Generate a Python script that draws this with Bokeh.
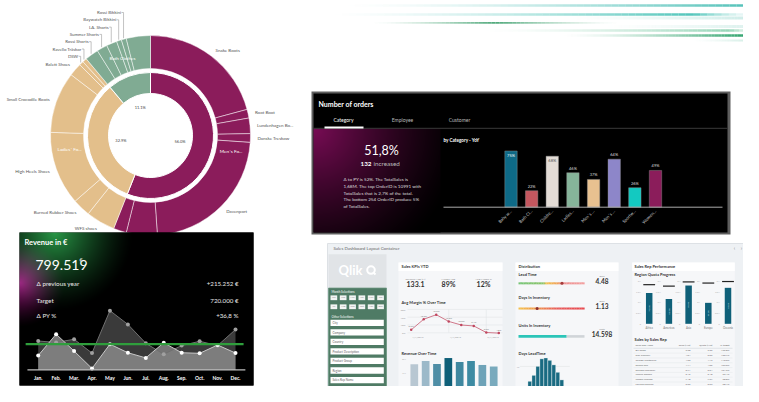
import numpy as np
from bokeh.plotting import figure
from bokeh.models import Range1d
from bokeh.core.properties import value
from bokeh.embed import file_html
from bokeh.resources import INLINE

# ======================= DATA =======================
# Sunburst: inner ring = category, outer ring = product (shares in % of total)
cat_labels = ["Men´s Fo...", "Ladies´ Fo...", "Bath Clothes"]
cat_share = [56.0, 32.9, 11.1]
prod_labels = ["Snake Boots", "Root Boot", "Lundenhagen Bo...", "Danske Treskow", "Davenport", "Cut Boots", "Exit Boots",
               "WFS shoes", "Burned Rubber Shoes", "High Heels Shoes", "Small Crocodile Boots", "Balett Shoes", "DSW",
               "Ravello Träskor", "Rossi Shorts", "Summer Shorts", "LA. Shorts", "Baywatch Bikkini", "Rossi Bikkini", ""]
prod_cat = [0, 0, 0, 0, 0, 0, 0, 1, 1, 1, 1, 1, 1, 1, 2, 2, 2, 2, 2, 2]
prod_share = [20.8, 1.4, 2.5, 1.4, 22.8, 5.0, 2.1,
              4.7, 2.9, 11.9, 9.9, 2.1, 0.7, 0.7,
              2.2, 1.7, 1.7, 0.8, 0.8, 3.9]

# Number of orders
order_title = "Number of orders"
order_tabs = ["Category", "Employee", "Customer"]
order_kpi = "51,8%"
order_increased = "132"
order_text = ["Δ to PY is 52%. The TotalSales is",
              "1,68M. The top OrderID is 10991 with",
              "TotalSales that is 2,7% of the total.",
              "The bottom 254 OrderID produce 5%",
              "of TotalSales."]
order_cats = ["Baby w...", "Bath Cl...", "Childre...", "Ladies...", "Men´s ...", "Men´s ...", "Sportw...", "Women..."]
order_yoy = [75, 22, 68, 46, 37, 64, 26, 49]

# Revenue in €
rev_months = ["Jan.", "Feb.", "Mar.", "Apr.", "May", "Jun.", "Jul.", "Aug.", "Sep.", "Oct.", "Nov.", "Dec."]
rev_series_a = [101, 96, 107, 59, 207, 159, 93, 55, 85, 100, 85, 141]
rev_series_b = [50, 125, 66, 5, 90, 60, 42, 95, 60, 58, 87, 59]
rev_target_line = 90
rev_total = "799.519"
rev_kpi_labels = ["Δ previous year", "Target", "Δ PY %"]
rev_kpi_values = ["+215.252 €", "720.000 €", "+36,8 %"]

# Sales dashboard
dash_months = ["Jan", "Feb", "Mar", "Apr", "May", "Jun", "Jul", "Aug", "Sep", "Oct", "Nov", "Dec"]
dash_filters = ["City", "Company", "Country", "Product Description", "Product Group", "Region", "Sales Rep Name"]
kpi_names = ["Revenue YTD (M)", "Margin YTD", "YTD Margin %"]
kpi_values = ["133.1", "89%", "12%"]
margin_pct = [6.9, 13.7, 16.6, 12.3, 10.0, 9.4, 5.2, 4.8]
margin_ticks = [5, 10, 15, 20]
margin_dates = ["1/1/2019", "4/1/2019", "7/1/2019"]
revenue_m = [1.62, 1.85, 1.64, 2.06, 1.78, 1.85, 1.57, 1.46]
revenue_ticks = [1, 2]
dist_names = ["Lead Time", "Days In Inventory", "Units In Inventory"]
dist_units = ["Days", "Days", "Units"]
dist_values = [4.48, 1.13, 14598]
dist_value_labels = ["4.48", "1.13", "14.598"]
dist_max = [6.8, 4.0, 20000]
leadtime_counts = [288, 571, 1000, 1360, 1403, 1288, 1073, 717, 356]
regions = ["Africa", "Americas", "Asia", "Europe", "Oceania"]
region_progress = [72.5, 58.4, 90.0, 49.3, 84.6]
region_target = [92.0, 88.6, 98.5, 95.8, 99.4]
rep_header = ["Sales Rep Name", "Sales (Mio)", "Quota (Mio)", "% target"]
rep_names = ["Bill Rossa", "Rick Carswell", "George Whitmeyer", "Sharon Roe", "Sheldon Tweedley",
             "Joshua Ronson", "Joseph Lafonde", "Lorraine Rohrich"]
rep_sales = [2.98, 4.04, 4.53, 4.14, 3.71, 3.46, 7.48, 3.55]
rep_quota = [2.35, 3.09, 4.12, 4.06, 3.64, 3.48, 7.57, 3.62]

# ======================= FIGURE =======================
W, H = 743, 386
FX0, FX1, FY0, FY1 = 0, W, H, 0   # picture pixel at frame left/right/bottom/top
FONT = "Lato"

p = figure(width=W, height=H, x_range=Range1d(FX0, FX1), y_range=Range1d(FY0, FY1),
           output_backend="svg", toolbar_location=None, min_border=0,
           x_axis_location=None, y_axis_location=None)
p.grid.visible = False
p.outline_line_color = None
p.background_fill_color = "white"
p.border_fill_color = "white"

# vertical compression of the two bottom panels so that they fit in the frame
KR = (385.0 - 232.0) / (399.0 - 232.0)
KD = (386.0 - 243.0) / (402.0 - 243.0)


def RY(y):
    return (232.0 + (np.asarray(y, dtype=float) - 232.0) * KR).tolist()


def DY(y):
    return (243.0 + (np.asarray(y, dtype=float) - 243.0) * KD).tolist()


def sub_range(v0, v1, px0, px1, f0, f1):
    k = (v1 - v0) / (px1 - px0)
    return Range1d(start=v0 + (f0 - px0) * k, end=v0 + (f1 - px0) * k)


def add_x(name, v0, v1, px0, px1):
    p.extra_x_ranges[name] = sub_range(v0, v1, px0, px1, FX0, FX1)


def add_y(name, v0, v1, px0, px1):
    p.extra_y_ranges[name] = sub_range(v0, v1, px0, px1, FY0, FY1)


def T(x, y, s, size, color="#333333", align="left", bold=False, xr="default", yr="default",
      angle=0.0, baseline="middle", font=FONT, x_offset=0, alpha=1.0):
    xs = np.atleast_1d(np.asarray(x, dtype=float)).tolist()
    ys = np.atleast_1d(np.asarray(y, dtype=float)).tolist()
    ss = [str(v) for v in s] if isinstance(s, (list, tuple, np.ndarray)) else [str(s)]
    n = max(len(xs), len(ys), len(ss))
    if len(xs) == 1:
        xs = xs * n
    if len(ys) == 1:
        ys = ys * n
    if len(ss) == 1:
        ss = ss * n
    p.text(x=xs, y=ys, text=ss, text_font=value(font), text_font_size=value(f"{size}px"),
           text_font_style=value("bold" if bold else "normal"), text_align=value(align),
           text_baseline=value(baseline), angle=angle, x_offset=x_offset, text_alpha=alpha,
           text_color=color, x_range_name=xr, y_range_name=yr)


def hex2rgb(h):
    return tuple(int(h[i:i + 2], 16) for i in (1, 3, 5))


def interp(stops, t):
    for (t0, c0), (t1, c1) in zip(stops[:-1], stops[1:]):
        if t <= t1:
            f = (t - t0) / (t1 - t0) if t1 > t0 else 0
            a, b = hex2rgb(c0), hex2rgb(c1)
            return "#%02x%02x%02x" % tuple(int(round(a[j] + (b[j] - a[j]) * f)) for j in range(3))
    return stops[-1][1]


def glow(w, h, spots, base=(0, 0, 0)):
    yy, xx = np.mgrid[0:h, 0:w].astype(float)
    rgb = np.zeros((h, w, 3)) + np.array(base, dtype=float)
    for sx, sy, rad, col, a, ex in spots:
        d = np.sqrt((xx - sx) ** 2 + (yy - sy) ** 2) / rad
        f = np.clip(1 - d, 0, 1) ** ex * a
        rgb += f[..., None] * np.array(col, dtype=float)
    rgb = np.clip(rgb, 0, 255).astype(np.uint32)
    img = (np.uint32(255) << 24) | (rgb[..., 2] << 16) | (rgb[..., 1] << 8) | rgb[..., 0]
    return img.astype(np.uint32)


# ---------------- decorative streaks (top right) ----------------
streaks = [
    (5, 340, 757, "#39b8ae", 1.0, 2.5, 0.9),
    (14, 327, 757, "#3fbfb3", 0.85, 2.5, 0.9),
    (17.5, 560, 757, "#a6ddd6", 1.0, 3.0, 0.6),
    (22.3, 370, 620, "#3c9f6c", 0.5, 1.8, 0.9),
    (26, 600, 757, "#bfe6df", 1.0, 3.0, 0.6),
    (30, 480, 757, "#6cc49a", 0.9, 2.5, 0.7),
    (35, 560, 757, "#1b9a5e", 1.0, 2.5, 1.0),
    (40, 690, 757, "#9fd9c7", 1.0, 2.0, 0.6),
]
for sy, sx0, sx1, scol, peak, sw, amax in streaks:
    xs = np.linspace(sx0, sx1, 61)
    t = ((xs[:-1] + xs[1:]) / 2 - sx0) / (sx1 - sx0)
    a = np.where(t < peak, t / peak, (1 - t) / max(1 - peak, 1e-6))
    a = amax * np.clip(a, 0, 1) ** 1.5
    p.segment(x0=xs[:-1], x1=xs[1:], y0=sy, y1=sy, line_color=scol, line_alpha=a, line_width=sw)

# ---------------- sunburst ----------------
cx, cy = 150, 135
r_hole, r_in, r_gap, r_out = 42, 63, 67, 100
cat_colors = ["#8b1c5b", "#e3bf8b", "#80ab93"]
cs = np.array(cat_share)
c_end = np.cumsum(cs) * 3.6
c_start = c_end - cs * 3.6
c_mid = (c_start + c_end) / 2
p.annular_wedge(x=cx, y=cy, inner_radius=r_hole, outer_radius=r_in,
                start_angle=np.radians(90 - c_end), end_angle=np.radians(90 - c_start),
                fill_color=cat_colors, line_color="white", line_width=1.0)
ps = np.array(prod_share)
p_end = np.cumsum(ps) * 3.6
p_start = p_end - ps * 3.6
p_mid = (p_start + p_end) / 2
p.annular_wedge(x=cx, y=cy, inner_radius=r_gap, outer_radius=r_out,
                start_angle=np.radians(90 - p_end), end_angle=np.radians(90 - p_start),
                fill_color=[cat_colors[c] for c in prod_cat], line_color="white", line_width=0.6, line_alpha=0.8)

th = np.radians(p_mid)
r_lab = 107
right_idx = [i for i in range(len(ps)) if prod_labels[i] and p_mid[i] < 315 and np.sin(th[i]) >= 0]
left_idx = [i for i in range(len(ps)) if prod_labels[i] and p_mid[i] < 315 and np.sin(th[i]) < 0]
for idxs, al in ((right_idx, "left"), (left_idx, "right")):
    T([cx + r_lab * np.sin(th[i]) for i in idxs], [cy - r_lab * np.cos(th[i]) for i in idxs],
      [prod_labels[i] for i in idxs], 4.5, "#555555", al)
stk = sorted([i for i in range(len(ps)) if prod_labels[i] and p_mid[i] >= 315], key=lambda i: -p_mid[i])
lx, ly, lt, lxs, lys = [], [], [], [], []
for k, i in enumerate(stk):
    ax = cx + (r_out + 1) * np.sin(th[i])
    ay = cy - (r_out + 1) * np.cos(th[i])
    yl = 12 + 7.3 * k
    lxs.append([ax - 2, ax, ax])
    lys.append([yl, yl, ay])
    lx.append(ax - 2.5)
    ly.append(yl)
    lt.append(prod_labels[i])
p.multi_line(xs=lxs, ys=lys, line_color="#9a9a9a", line_width=0.6)
T(lx, ly, lt, 4.4, "#555555", "right")

T([cx + 82 * np.sin(np.radians(m)) for m in c_mid], [cy - 82 * np.cos(np.radians(m)) for m in c_mid],
  cat_labels, 4.6, "white", "center")
T([cx + 30 * np.sin(np.radians(m)) for m in c_mid], [cy - 30 * np.cos(np.radians(m)) for m in c_mid],
  [f"{v:.1f}%" for v in cat_share], 4.0, "#444444", "center")

# ---------------- Revenue in € panel ----------------
RX0, RX1, RY0, RY1 = 19, 253, 232, RY(399)
p.quad(left=RX0, right=RX1, top=RY0, bottom=RY1, fill_color="black", line_color=None)
rh = int(round(RY1 - RY0))
rimg = glow(RX1 - RX0, rh, [(35, 0, 80, (40, 150, 70), 1.0, 1.4),
                            (0, 50, 45, (150, 20, 120), 1.0, 1.4)])
p.image_rgba(image=[rimg], x=RX0, y=RY0, dw=RX1 - RX0, dh=rh)
T(24, RY(243), "Revenue in €", 7.5, "white", bold=True)
T(35, RY(268), rev_total, 14, "white")
T(79, RY(262), "€", 5.5, "#dddddd")
T(36, RY([288, 306, 323]), rev_kpi_labels, 6.3, "#e8e8e8")
T(238, RY([288, 306, 323]), rev_kpi_values, 6.2, "#e8e8e8", "right")

add_x("rev_x", 0, 11, 37.7, 235)
add_y("rev_y", 0, 100, RY(382), RY(382 - 100 / 3.2))
ridx = np.arange(len(rev_months))
p.varea(x=ridx, y1=0, y2=rev_series_a, fill_color="#3a3a3a", x_range_name="rev_x", y_range_name="rev_y")
p.varea(x=ridx, y1=0, y2=rev_series_b, fill_color="#8a8a8a", fill_alpha=0.85, x_range_name="rev_x", y_range_name="rev_y")
p.line(ridx, rev_series_a, line_color="#707070", line_width=1, x_range_name="rev_x", y_range_name="rev_y")
p.line(ridx, rev_series_b, line_color="#c8c8c8", line_width=1, x_range_name="rev_x", y_range_name="rev_y")
p.scatter(ridx, rev_series_a, size=4, fill_color="#a0a0a0", line_color=None, x_range_name="rev_x", y_range_name="rev_y")
p.scatter(ridx, rev_series_b, size=4, fill_color="white", line_color=None, x_range_name="rev_x", y_range_name="rev_y")
p.segment(x0=-0.6, x1=len(ridx) - 0.45, y0=0, y1=0, line_color="#bdbdbd", line_width=1.3,
          x_range_name="rev_x", y_range_name="rev_y")
p.segment(x0=-0.7, x1=len(ridx) - 0.55, y0=rev_target_line, y1=rev_target_line, line_color="#2f9e3c",
          line_width=2.2, x_range_name="rev_x", y_range_name="rev_y")
T(ridx, RY(391), rev_months, 5, "white", "center", bold=True, xr="rev_x")

# ---------------- Number of orders panel ----------------
p.quad(left=311, right=730, top=91, bottom=234, fill_color="#5e5e5e", line_color=None)
p.quad(left=313, right=727, top=93, bottom=232, fill_color="black", line_color=None)
oimg = glow(440 - 313, 232 - 128, [(0, 0, 150, (120, 12, 85), 1.0, 1.3)])
p.image_rgba(image=[oimg], x=313, y=128, dw=440 - 313, dh=232 - 128)
T(318, 103, order_title, 7, "white", bold=True)
T([343, 402, 459], 119, order_tabs, 5, ["#ffffff", "#bbbbbb", "#bbbbbb"], "center")
p.segment(x0=313, x1=727, y0=127.8, y1=127.8, line_color="#3a3a3a", line_width=1)
p.segment(x0=324, x1=363, y0=127, y1=127, line_color="white", line_width=2)
T(381, 150, order_kpi, 12.5, "white", "center")
T(371, 163, order_increased, 6.3, "white", "right", bold=True)
T(373, 163, "increased", 6.3, "#bbbbbb", "left")
T(343, [178, 185, 192, 198.5, 205], order_text, 4.6, "#dddddd")
T(443, 139, "by Category - YoY", 4.6, "white", bold=True)

add_x("ord_x", 0, 7, 510.5, 655)
add_y("ord_y", 0, 100, 206.7, 131.7)
oidx = np.arange(len(order_cats))
bar_cols = ["#0e6a87", "#c4575f", "#e3dcd6", "#86b49a", "#e8c190", "#8d86c9", "#13c9c1", "#8b1d5b"]
p.vbar(x=oidx, top=order_yoy, bottom=0, width=0.6, fill_color=bar_cols, line_color="#9a9a9a", line_width=0.4,
       x_range_name="ord_x", y_range_name="ord_y")
p.segment(x0=443, x1=722, y0=0, y1=0, line_color="#aaaaaa", line_width=1, y_range_name="ord_y")
ins = [v >= 66 for v in order_yoy]
lum = [0.3 * hex2rgb(c)[0] + 0.59 * hex2rgb(c)[1] + 0.11 * hex2rgb(c)[2] for c in bar_cols]
T([i for i in oidx if ins[i]], [order_yoy[i] - 6 for i in oidx if ins[i]],
  [f"{order_yoy[i]}%" for i in oidx if ins[i]], 4, [("#555555" if lum[i] > 150 else "white") for i in oidx if ins[i]],
  "center", xr="ord_x", yr="ord_y")
T([i for i in oidx if not ins[i]], [order_yoy[i] + 6 for i in oidx if not ins[i]],
  [f"{order_yoy[i]}%" for i in oidx if not ins[i]], 4, "#dddddd", "center", xr="ord_x", yr="ord_y")
T(oidx, 210, order_cats, 4.3, "#cccccc", "right", xr="ord_x", angle=np.pi / 4)

# ---------------- Sales dashboard panel (compressed vertically via DY) ----------------
p.quad(left=327, right=748, top=243, bottom=DY(402), fill_color="#eef1f4", line_color="#dde1e5")
T(333, DY(248.5), "Sales Dashboard Layout Container", 4.4, "#666666")
T([734, 741], DY(248.5), ["‹", "›"], 5, "#888888", "center")
# sidebar
p.quad(left=328, right=386, top=DY(255), bottom=DY(292), fill_color="#e1e4e7", line_color=None)
T(338, DY(272.5), "Qlik", 13, "white", bold=True)
p.circle(x=370.5, y=DY(272.5), radius=3.8, fill_color=None, line_color="white", line_width=2)
p.segment(x0=372.5, y0=DY(275), x1=375, y1=DY(277.5), line_color="white", line_width=2)
p.quad(left=328, right=386, top=DY(292.5), bottom=DY(402), fill_color="#4f7b65", line_color="#6b9580", line_width=0.8)
T(331, DY(297), "Month Selections", 3, "white")
bx = np.array([330, 339.3, 348.7, 358, 367.3, 376.7])
mb_left = np.concatenate([bx, bx])
mb_top = np.repeat([300.7, 310.7], 6)
p.quad(left=mb_left, right=mb_left + 6.7, top=DY(mb_top), bottom=DY(mb_top + 5.3), fill_color="#f3f5f4", line_color=None)
T(mb_left + 3.35, DY(mb_top + 2.7), dash_months, 2.4, "#888888", "center")
T(331, DY(325), "Other Selections", 3, "white")
fy = 327.7 + 10.6 * np.arange(len(dash_filters))
p.quad(left=330, right=383.3, top=DY(fy), bottom=DY(fy + 7), fill_color="white", line_color=None)
T(332, DY(fy + 3.5), dash_filters, 3, "#666666")

# cards
for cx0, cx1 in ((398, 502), (515, 618), (631.7, 734.3)):
    p.quad(left=cx0, right=cx1, top=DY(264), bottom=DY(402), fill_color="#f6f7f9", line_color=None)
    p.quad(left=cx0, right=cx1, top=DY(264), bottom=DY(273.5), fill_color="white", line_color=None)
# card 1
T(401, DY(269), "Sales KPIs YTD", 4, "#333333", bold=True)
T([415, 448, 483], DY(282), kpi_names, 2.6, "#888888", "center")
T([415, 448, 483], DY(287.5), kpi_values, 7, "#333333", "center", bold=True)
T(401, DY(309), "Avg Margin % Over Time", 4, "#333333", bold=True)
add_x("mg_x", 0, 7, 410.7, 498.3)
add_y("mg_y", 5, 20, DY(342.3), DY(316.3))
midx = np.arange(len(margin_pct))
p.segment(x0=-0.3, x1=7.3, y0=margin_ticks, y1=margin_ticks, line_color="#e2e5e8", line_width=0.6,
          x_range_name="mg_x", y_range_name="mg_y")
p.segment(x0=[3, 6], x1=[3, 6], y0=min(margin_ticks), y1=max(margin_ticks), line_color="#e2e5e8", line_width=0.6,
          x_range_name="mg_x", y_range_name="mg_y")
T(-0.45, margin_ticks, [f"{v}%" for v in margin_ticks], 2.6, "#999999", "right", xr="mg_x", yr="mg_y")
T([0, 3, 6], DY(347), margin_dates, 2.6, "#999999", "left", xr="mg_x", x_offset=1)
p.line(midx, margin_pct, line_color="#d0788a", line_width=1, x_range_name="mg_x", y_range_name="mg_y")
p.scatter(midx, margin_pct, size=2.5, fill_color="#c0455e", line_color=None, x_range_name="mg_x", y_range_name="mg_y")
T(midx, [v + 2 for v in margin_pct], [f"{v:.1f}%" for v in margin_pct], 2.4, "#777777", "center",
  xr="mg_x", yr="mg_y")
T(401, DY(365.3), "Revenue Over Time", 4, "#333333", bold=True)
add_x("rv_x", 0, 7, 413.8, 493.2)
add_y("rv_y", 0, 1, DY(402.7), DY(387))
rv_cols = ["#b8c7d2", "#9cb9c9", "#4f8ea6", "#0e5f78", "#3f88a0", "#3d8ba3", "#6ea3b8", "#79aabd"]
p.vbar(x=np.arange(len(revenue_m)), top=revenue_m, bottom=0, width=0.68, fill_color=rv_cols, line_color=None,
       x_range_name="rv_x", y_range_name="rv_y")
T(-0.75, revenue_ticks, [f"{v}M" for v in revenue_ticks], 2.6, "#999999", "right", xr="rv_x", yr="rv_y")

# card 2
T(518, DY(269), "Distribution", 4, "#333333", bold=True)
add_x("g_x", 0, 1, 518, 584)
g_y = DY([287.3, 315.3, 346.3])
T(518, DY([278, 303, 334]), dist_names, 4, "#333333", bold=True)
T(601.5, DY([280, 307.5, 338.5]), dist_units, 2.4, "#888888", "center")
T(601.5, DY([285, 312.3, 343.3]), dist_value_labels, 6.5, "#333333", "center", bold=True)
segs = np.linspace(0, 1, 41)
lead_stops = [(0, "#74c476"), (0.38, "#8cc46a"), (0.42, "#f2c14e"), (0.6, "#f0a05a"), (0.65, "#ee8f8f"), (1, "#f2a0a0")]
inv_stops = [(0, "#f5c24c"), (0.25, "#f09a4a"), (0.6, "#e85a5a"), (1, "#e84a50")]
for gy, stops in ((g_y[0], lead_stops), (g_y[1], inv_stops)):
    p.quad(left=segs[:-1], right=segs[1:] + 0.002, top=gy - 1, bottom=gy + 1,
           fill_color=[interp(stops, t) for t in (segs[:-1] + segs[1:]) / 2], line_color=None, x_range_name="g_x")
frac = [v / m for v, m in zip(dist_values, dist_max)]
p.quad(left=0, right=frac[2], top=g_y[2] - 1.3, bottom=g_y[2] + 1.3, fill_color="#2cc5b8", line_color=None, x_range_name="g_x")
p.quad(left=frac[2], right=1, top=g_y[2] - 1.3, bottom=g_y[2] + 1.3, fill_color="#d0d4d8", line_color=None, x_range_name="g_x")
p.scatter(frac[:2], g_y[:2], size=3, fill_color=["#a33a3a", "#8a3030"], line_color=None, x_range_name="g_x")
T(518, DY(365), "Days LeadTime", 4, "#333333", bold=True)
add_x("h_x", 0, 8, 529.3, 561.3)
add_y("h_y", 0, 1000, DY(403), DY(379.7))
p.segment(x0=-2.5, x1=10, y0=1000, y1=1000, line_color="#e2e5e8", line_width=0.6, x_range_name="h_x", y_range_name="h_y")
T(-2.6, 1000, "1k", 2.6, "#999999", "right", xr="h_x", yr="h_y")
p.vbar(x=np.arange(len(leadtime_counts)), top=leadtime_counts, bottom=0, width=0.92, fill_color="#1a6b82",
       line_color="#e8f0f3", line_width=0.3, x_range_name="h_x", y_range_name="h_y")

# card 3
T(634, DY(269), "Sales Rep Performance", 4, "#333333", bold=True)
T(634, DY(278), "Region Quota Progress", 4, "#333333", bold=True)
add_x("reg_x", 0, 4, 648.7, 727.5)
add_y("reg_y", 0, 100, DY(332.3), DY(285))
gidx = np.arange(len(regions))
for tv, tl in zip([0, 25, 50, 75, 100], ["0", "0.5M", "1M", "1.5M", "2M"]):
    T(gidx - 0.42, tv, tl, 2.1, "#aaaaaa", "right", xr="reg_x", yr="reg_y")
p.vbar(x=gidx, top=region_progress, bottom=0, width=0.33, fill_color="#0f6079", line_color=None,
       x_range_name="reg_x", y_range_name="reg_y")
p.segment(x0=gidx - 0.3, x1=gidx + 0.3, y0=region_target, y1=region_target, line_color="#222222", line_width=1.2,
          x_range_name="reg_x", y_range_name="reg_y")
T(gidx, [v / 2 for v in region_progress], [f"{v:.1f}%" for v in region_progress], 2.2, "#dfe9ee", "center",
  xr="reg_x", yr="reg_y", angle=np.pi / 2)
T(gidx, DY(336.7), regions, 2.8, "#777777", "center", xr="reg_x")
T(634, DY(349.7), "Sales by Sales Rep", 4, "#333333", bold=True)
T(635, DY(356.5), rep_header[0], 2.5, "#666666", "left")
T([690, 712, 729], DY(356.5), rep_header[1:], 2.5, "#666666", "right")
p.segment(x0=633, x1=732, y0=DY(359.5), y1=DY(359.5), line_color="#cfd4d8", line_width=0.6)
ry = 362.3 + 5.35 * np.arange(len(rep_names))
p.segment(x0=633, x1=732, y0=DY(ry + 2.6), y1=DY(ry + 2.6), line_color="#e3e6e9", line_width=0.5)
T(635, DY(ry), rep_names, 2.5, "#666666")
T(690, DY(ry), [f"{v:.2f}" for v in rep_sales], 2.5, "#666666", "right")
T(712, DY(ry), [f"{v:.2f}" for v in rep_quota], 2.5, "#666666", "right")
T(729, DY(ry), [f"{s / q * 100:.1f}%" for s, q in zip(rep_sales, rep_quota)], 2.5, "#666666", "right")

open("out.html", "w").write(file_html(p, INLINE))
